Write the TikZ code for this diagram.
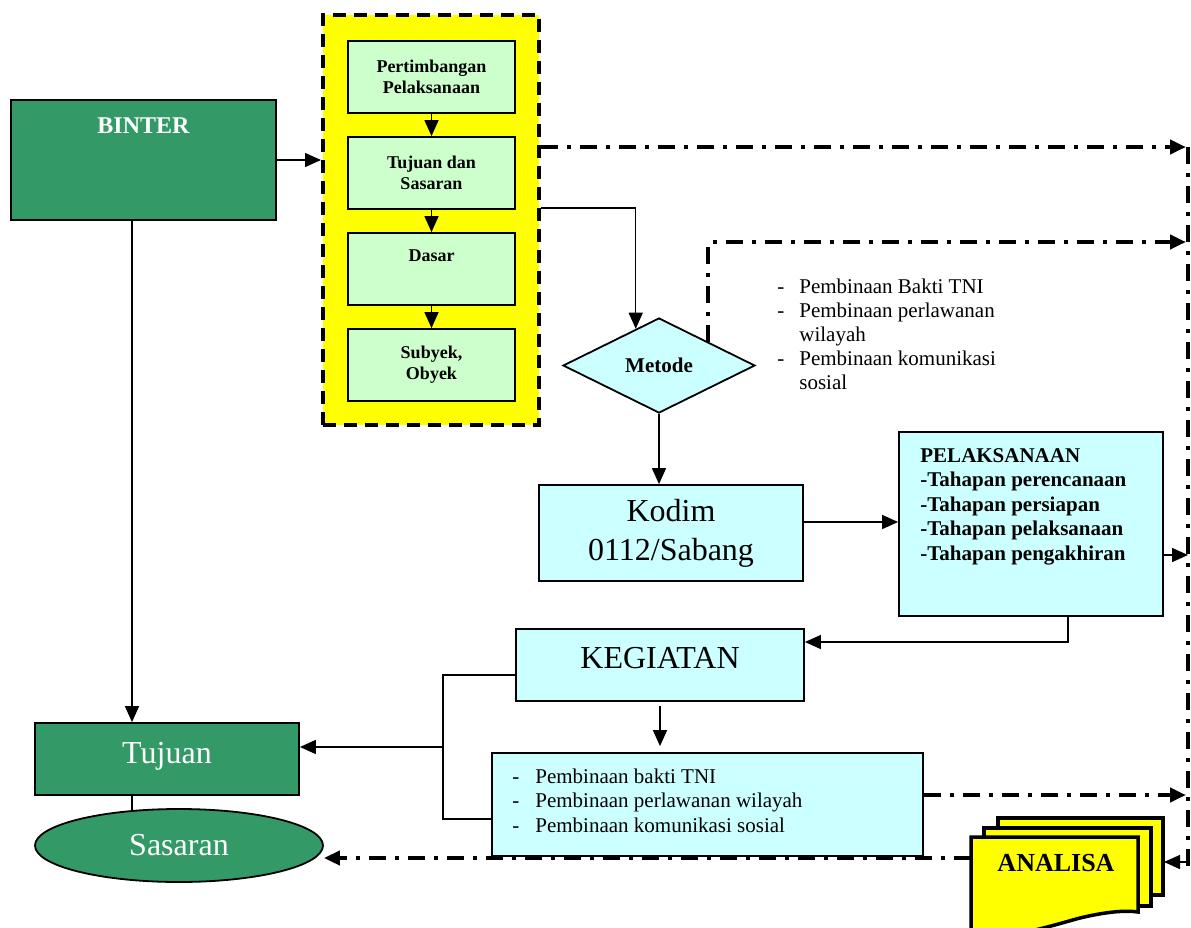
\documentclass[tikz,border=0pt]{standalone}
\usepackage{fontspec}
\setmainfont{Liberation Serif}
\usetikzlibrary{arrows.meta,shapes.geometric,calc}
\definecolor{dgreen}{HTML}{339966}
\definecolor{lgreen}{HTML}{CCFFCC}
\definecolor{lcyan}{HTML}{CCFFFF}
\definecolor{ylw}{HTML}{FFFF00}
\begin{document}
\begin{tikzpicture}[x=0.5pt,y=-0.5pt,
 box/.style={draw=black,line width=0.9pt,inner sep=0pt},
 gbox/.style={box,fill=dgreen,text=white},
 lgbox/.style={box,fill=lgreen,minimum width=83.5pt,minimum height=36pt,font=\bfseries\fontsize{9}{10.5}\selectfont,align=center},
 cbox/.style={box,fill=lcyan},
 bigtxt/.style={font=\fontsize{16}{19.5}\selectfont},
 conn/.style={line width=0.75pt},
 arr/.style={conn,-{Triangle[length=8pt,width=7pt]}},
 dd/.style={line width=2pt,dash pattern=on 8.5pt off 4.5pt on 2pt off 4.5pt},
 ddarr/.style={dd,-{Triangle[length=8pt,width=7pt]}},
 sheet/.style={draw=black,line width=1.75pt,fill=ylw,line join=miter},
]
\useasboundingbox (0,0) rectangle (1191,928);

% yellow dashed group
\node[draw=black,fill=ylw,line width=2pt,dash pattern=on 6.5pt off 4pt,
      minimum width=108pt,minimum height=205pt,inner sep=0pt] (yb) at (431,220) {};
\node[lgbox] (b1) at (431.5,77) {Pertimbangan\\Pelaksanaan};
\node[lgbox] (b2) at (431.5,173) {Tujuan dan\\Sasaran};
\node[lgbox,label={[anchor=north,inner sep=0pt,yshift=-8.8pt,font=\bfseries\fontsize{9}{10.5}\selectfont]north:Dasar}] (b3) at (431.5,269) {};
\node[lgbox] (b4) at (431.5,365) {Subyek,\\Obyek};
\draw[arr] (b1.south) -- (b2.north);
\draw[arr] (b2.south) -- (b3.north);
\draw[arr] (b3.south) -- (b4.north);

% BINTER
\node[gbox,minimum width=132.5pt,minimum height=60pt,
      label={[anchor=north,inner sep=0pt,yshift=-9pt,text=white,font=\bfseries\fontsize{12}{14}\selectfont]north:BINTER}] (binter) at (143.5,160) {};
\draw[arr] (binter.east) -- (binter.east -| yb.west);

% Metode
\node[draw=black,line width=0.9pt,fill=lcyan,diamond,minimum width=96pt,minimum height=47.5pt,
      inner sep=0pt,font=\bfseries\fontsize{10.5}{12}\selectfont] (metode) at (659,365.5) {Metode};
\draw[arr] ([yshift=6pt]yb.east) -| ($(metode.north)!0.24!(metode.west)$);

\node[anchor=base west,inner sep=0pt,font=\fontsize{10.5}{12}\selectfont] (mlist) at (777,293)
 {\begin{tabular}[t]{@{}l@{}}
 \makebox[11pt][l]{-}Pembinaan Bakti TNI\\
 \makebox[11pt][l]{-}Pembinaan perlawanan\\
 \hspace*{11pt}wilayah\\
 \makebox[11pt][l]{-}Pembinaan komunikasi\\
 \hspace*{11pt}sosial
 \end{tabular}};

% Kodim
\node[cbox,minimum width=132pt,minimum height=48pt,align=center,bigtxt] (kodim) at (671,533) {Kodim\\0112/Sabang};
\draw[arr] (metode.south) -- (metode.south |- kodim.north);

% Pelaksanaan
\node[cbox,minimum width=132pt,minimum height=92pt] (pel) at (1031,524) {};
\node[anchor=base west,inner sep=0pt,font=\bfseries\fontsize{10.5}{12.25}\selectfont] (pelt) at (920,462)
 {\begin{tabular}[t]{@{}l@{}}
 PELAKSANAAN\\
 -Tahapan perencanaan\\
 -Tahapan persiapan\\
 -Tahapan pelaksanaan\\
 -Tahapan pengakhiran
 \end{tabular}};
\draw[arr] ([yshift=5.5pt]kodim.east) -- ([yshift=5.5pt]kodim.east -| pel.west);

% Kegiatan
\node[cbox,minimum width=144pt,minimum height=36pt,bigtxt,text depth=7pt] (keg) at (660,665) {KEGIATAN};
\draw[arr] ([xshift=18.5pt]pel.south) |- ([yshift=11.5pt]keg.east);

% list box
\node[cbox,minimum width=215.5pt,minimum height=51.5pt] (list2) at (707.5,804.5) {};
\node[anchor=base west,inner sep=0pt,font=\fontsize{10.5}{12.25}\selectfont] (list2t) at (512,783)
 {\begin{tabular}[t]{@{}l@{}}
 \makebox[11.5pt][l]{-}Pembinaan bakti TNI\\
 \makebox[11.5pt][l]{-}Pembinaan perlawanan wilayah\\
 \makebox[11.5pt][l]{-}Pembinaan komunikasi sosial
 \end{tabular}};
\draw[arr,shorten >=3pt] ([yshift=-2pt]keg.south) -- (keg.south |- list2.north);

% Tujuan / Sasaran
\node[gbox,minimum width=132pt,minimum height=36pt,bigtxt,text height=11pt,text depth=7pt] (tujuan) at (167,759) {Tujuan};
\node[gbox,ellipse,minimum width=144pt,minimum height=36.5pt,bigtxt] (sasaran) at (179,845.5) {Sasaran};

\coordinate (cx) at (132,0);
\draw[arr] (binter.south -| cx) -- (tujuan.north -| cx);
\draw[conn] (tujuan.south -| cx) -- (132,811);

\coordinate (j1) at (443,675);
\coordinate (j2) at (443,819);
\coordinate (j3) at (443,747);
\draw[conn] (j1 -| keg.west) -- (j1) -- (j2) -- (j2 -| list2.west);
\draw[arr] (j3) -- (j3 -| tujuan.east);

% ANALISA
\draw[sheet] (998,818) rectangle (1163,895);
\draw[sheet] (984,828) rectangle (1151,906);
\draw[sheet] (971,837) -- (971,934) .. controls (1010,940) and (1050,926) .. (1080,918)
   .. controls (1105,912) and (1125,910) .. (1138,912) -- (1138,837) -- cycle;
\node[font=\bfseries\fontsize{13}{15}\selectfont,inner sep=0pt] (analisa) at (1056,863) {ANALISA};

% right collector line
\coordinate (rt) at (1188,147);
\coordinate (rb) at (1188,866);
\coordinate (r2) at (1188,242);
\coordinate (r5) at (1188,862);
\coordinate (aback) at (1164,862);
\coordinate (afront) at (971,858);
\draw[dd] (rt) -- (rb);
\draw[ddarr,shorten >=1pt] ([yshift=36.5pt]yb.east) -- ([yshift=36.5pt]yb.east -| rt);
\draw[ddarr,shorten >=1pt] ($(metode.north)!0.51!(metode.east)$) |- (r2);
\draw[arr] ([yshift=-15.5pt]pel.east) -- ([yshift=-15.5pt]pel.east -| rt);
\draw[ddarr,shorten >=1pt] ([yshift=4.75pt]list2.east) -- ([yshift=4.75pt]list2.east -| rt);
\draw[arr] (r5) -- (aback);
\draw[ddarr] (afront) -- (afront -| sasaran.east);
\end{tikzpicture}
\end{document}
